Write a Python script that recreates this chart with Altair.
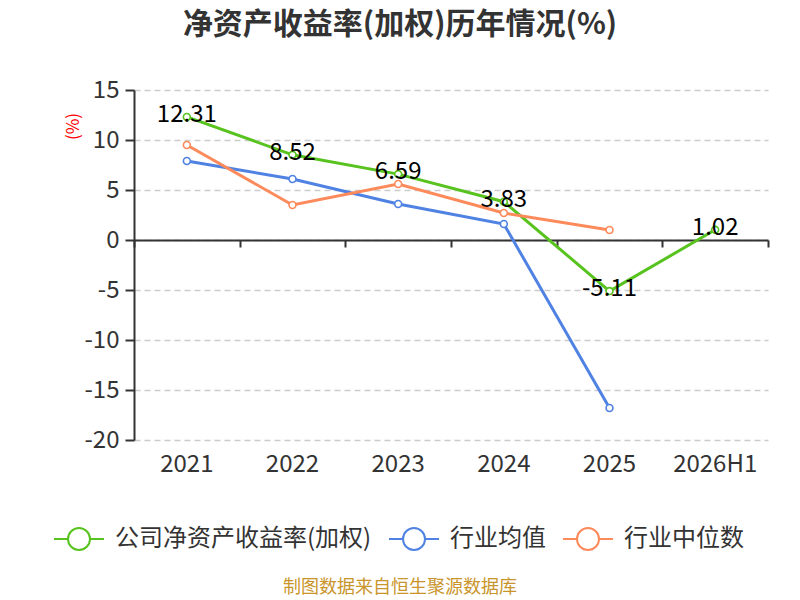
import altair as alt
import pandas as pd

years = ["2021", "2022", "2023", "2024", "2025", "2026H1"]
company = [12.31, 8.52, 6.59, 3.83, -5.11, 1.02]
ind_avg = [7.9, 6.1, 3.6, 1.6, -16.8]
ind_med = [9.5, 3.5, 5.6, 2.7, 1.0]
series_names = ["公司净资产收益率(加权)", "行业均值", "行业中位数"]
colors = ["#58c31f", "#4f82e2", "#fd8a5b"]
y_ticks = [15, 10, 5, 0, -5, -10, -15, -20]
title_text = "净资产收益率(加权)历年情况(%)"
source_text = "制图数据来自恒生聚源数据库"

FONT = "Noto Sans CJK SC"

rows = []
for name, vals in zip(series_names, [company, ind_avg, ind_med]):
    for yr, v in zip(years, vals):
        rows.append({"series": name, "year": yr, "value": v})
df = pd.DataFrame(rows)
label_df = pd.DataFrame({"year": years, "value": company,
                         "label": [f"{v:.2f}" for v in company]})
src_df = pd.DataFrame({"t": [source_text]})

xscale = alt.Scale(type="band", domain=years, paddingInner=0, paddingOuter=0)
yscale = alt.Scale(domain=[-20, 15], nice=False, zero=False)

legend_path = ("M-1,0L-0.44,0M0.44,0L1,0"
               "M0.44,0A0.44,0.44 0 1 1 -0.44,0A0.44,0.44 0 1 1 0.44,0")

lines = alt.Chart(df).mark_line(
    strokeWidth=3,
    point=alt.OverlayMarkDef(filled=False, fill="white", size=48, strokeWidth=1.6),
).encode(
    x=alt.X("year:N", scale=xscale, sort=years,
            axis=alt.Axis(title=None, domain=False, ticks=False, labelPadding=12,
                          labelFontSize=24, labelColor="#333", labelAngle=0,
                          labelFont=FONT, grid=False)),
    y=alt.Y("value:Q", scale=yscale,
            axis=alt.Axis(values=y_ticks, title="(%)", titleColor="red",
                          titleFontSize=17, titleFontWeight="normal", titleFont=FONT,
                          titleX=-61, titleY=36, titleAlign="center",
                          titleBaseline="middle", titleAngle=-90,
                          labelExpr="'' + datum.value",
                          labelFontSize=24, labelColor="#333", labelFont=FONT,
                          labelPadding=6, tickSize=9, tickColor="#333", tickWidth=2,
                          domainColor="#333", domainWidth=2,
                          grid=True, gridDash=[6, 4], gridColor="#cccccc",
                          gridWidth=1.5)),
    color=alt.Color("series:N", scale=alt.Scale(domain=series_names, range=colors),
                    legend=alt.Legend(title=None, orient="none", legendX=-81,
                                      legendY=423, direction="horizontal",
                                      columns=3, symbolType=legend_path,
                                      symbolSize=2500, symbolStrokeWidth=2,
                                      symbolFillColor="white", labelFontSize=24,
                                      labelColor="#333", labelFont=FONT,
                                      labelLimit=500, labelOffset=10,
                                      columnPadding=13)),
)

labels = alt.Chart(label_df).mark_text(
    fontSize=24, color="black", font=FONT, dy=-2
).encode(
    x=alt.X("year:N", scale=xscale, sort=years, axis=None),
    y=alt.Y("value:Q", scale=yscale),
    text="label:N",
)

zero_axis = alt.Chart(label_df).mark_point(opacity=0).encode(
    x=alt.X("year:N", scale=xscale, sort=years,
            axis=alt.Axis(title=None, labels=False, domain=True, ticks=True,
                          tickBand="extent", tickSize=7, tickColor="#333",
                          tickWidth=2, domainColor="#333", domainWidth=2,
                          offset=-200, grid=False, orient="bottom")),
    y=alt.Y("value:Q", scale=yscale),
)

source = alt.Chart(src_df).mark_text(
    fontSize=18, color="#c9952b", font=FONT
).encode(
    x=alt.value(266), y=alt.value(498), text="t:N"
)

chart = alt.layer(lines, zero_axis, labels, source).resolve_axis(
    x="independent"
).properties(
    width=634, height=350,
    autosize=alt.AutoSizeParams(type="none"),
    padding={"left": 126, "top": 82, "right": 24, "bottom": 160},
    title=alt.TitleParams(title_text, fontSize=30, fontWeight="bold", color="#333",
                          font=FONT, dx=-51, offset=38, anchor="middle"),
).configure_view(stroke=None)

chart.save("out.html", embed_options={"renderer": "svg", "actions": False})
